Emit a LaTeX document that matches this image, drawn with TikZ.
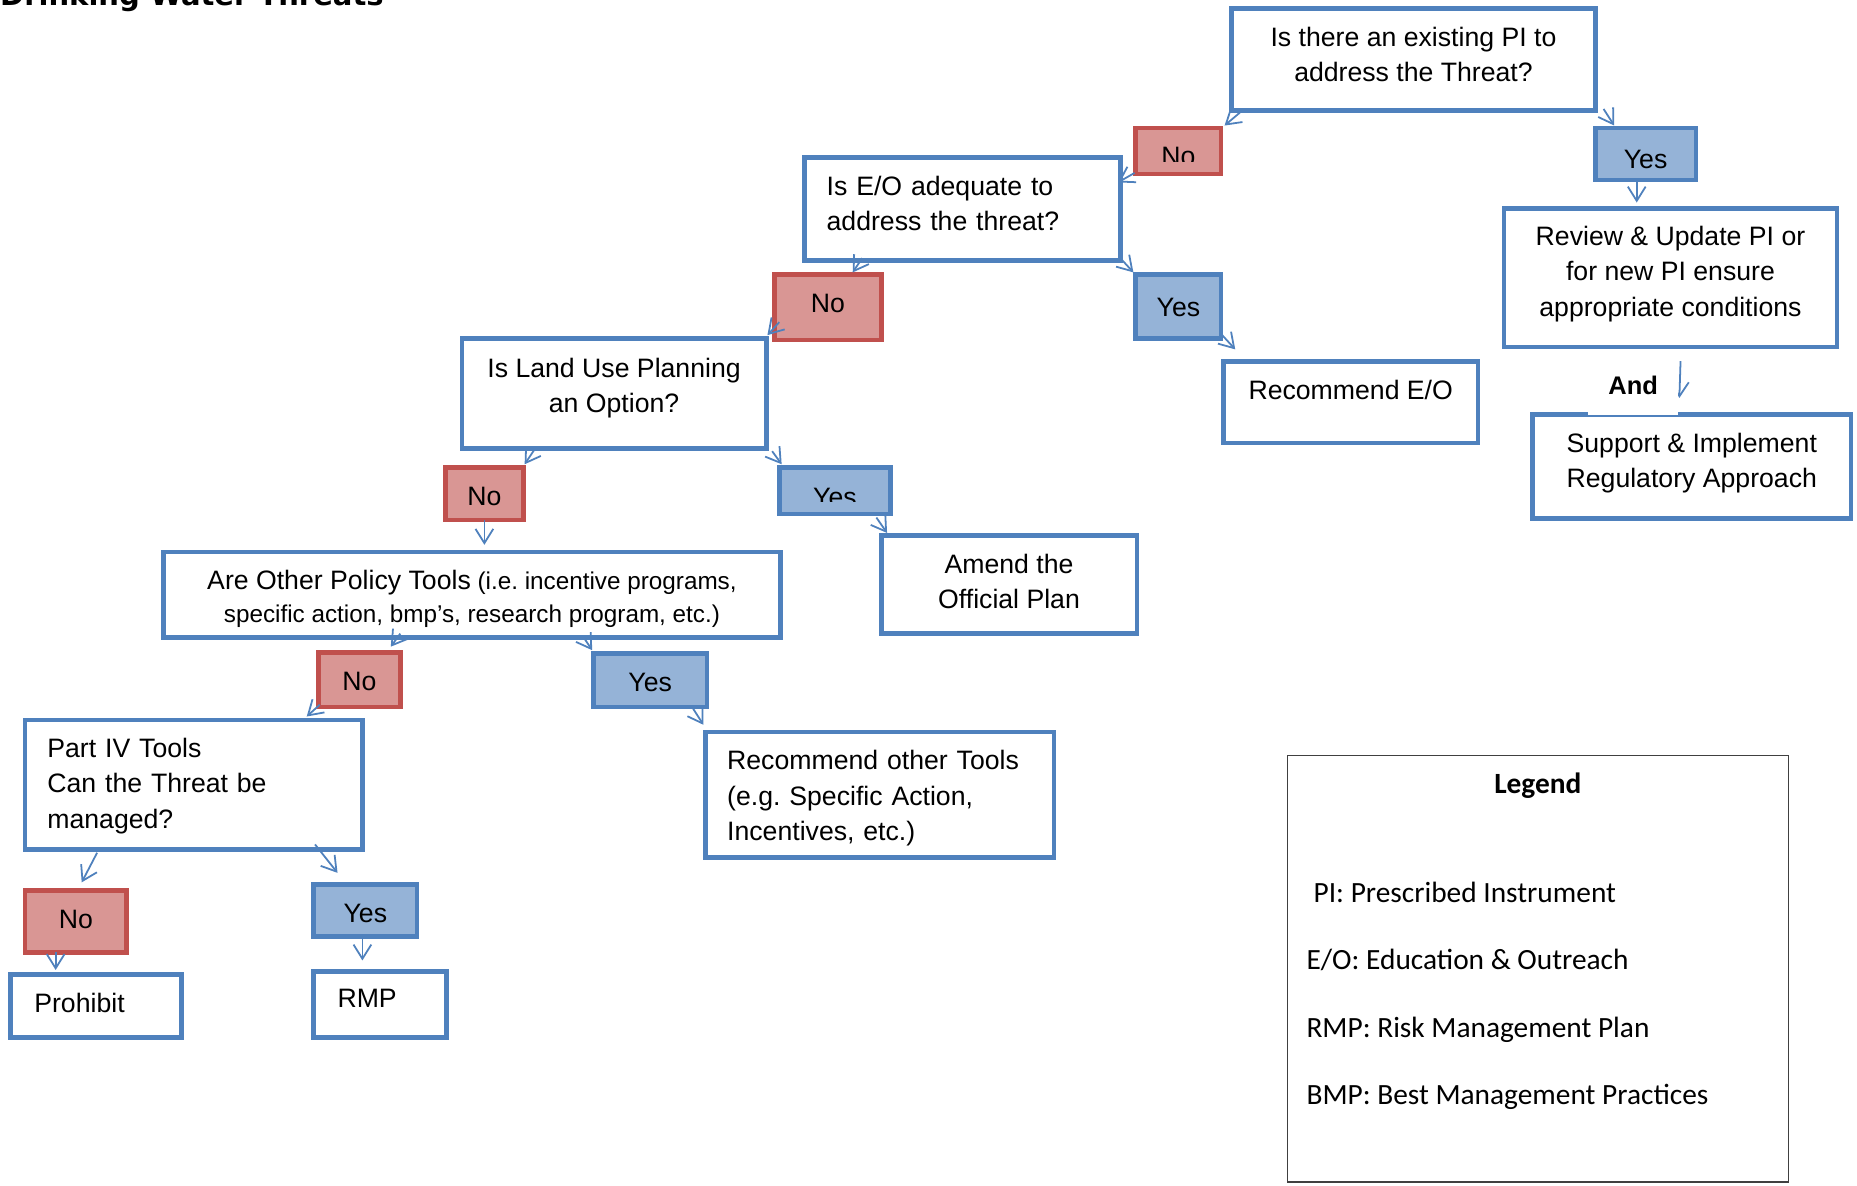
\documentclass[tikz,border=0pt]{standalone}
\usepackage{fontspec}
\setmainfont{Liberation Sans}
\newfontfamily\legendfont{Carlito}
\newfontfamily\titlefont{DejaVu Sans}
\usetikzlibrary{arrows.meta,calc}
\definecolor{bl}{HTML}{4F81BD}
\definecolor{blf}{HTML}{95B3D7}
\definecolor{rd}{HTML}{C0504D}
\definecolor{rdf}{HTML}{D99694}
\newcommand\sTop[1]{\rule{0pt}{\dimexpr#1pt+1pt\relax}}
\newcommand\sBot[1]{\rule[\dimexpr-#1pt+1pt\relax]{0pt}{\dimexpr#1pt-1pt\relax}}
\frenchspacing
\begin{document}
\begin{tikzpicture}[x=1pt,y=-1pt,
  basebox/.style={rectangle, inner sep=0pt, outer sep=0pt, line width=4pt,
    font=\fontsize{22.5}{30}\selectfont},
  qbox/.style={basebox, draw=bl, fill=white, align=center},
  lbox/.style={basebox, draw=bl, fill=white, align=left},
  nobox/.style={basebox, draw=rd, fill=rdf, align=center},
  yesbox/.style={basebox, draw=bl, fill=blf, align=center},
  arr/.style={draw=bl, line width=1.5pt, -{Straight Barb[length=12pt,width=15pt]}},
  legtext/.style={inner sep=0pt, anchor=base west, font=\legendfont\fontsize{24.8}{30}\selectfont},
]
\fill[white] (0,0) rectangle (1568,1001);
\useasboundingbox (0,0) rectangle (1568,1001);

\node[inner sep=0pt, anchor=base west, font=\titlefont\bfseries\fontsize{24.5}{30}\selectfont] (title) at (0,5) {Drinking Water Threats};

% decision boxes
\node[qbox, minimum width=307pt, minimum height=86pt] (pi) at (1193.5,50)
  {\sTop{22}Is there an existing PI to\\address the Threat?\sBot{16}};
\node[nobox, minimum width=72pt, minimum height=39pt] (no1) at (995,127.5) {\sTop{29}No\sBot{6}};
\fill[rdf] ($(no1.south west)+(2,-10.5)$) rectangle ($(no1.south east)+(-2,-2)$);
\node[yesbox, minimum width=85pt, minimum height=44pt] (yes1) at (1389.5,130) {\sTop{28}Yes\sBot{6}};
\node[qbox, minimum width=281pt, minimum height=117pt] (review) at (1410.5,234.5)
  {\sTop{22}Review \& Update PI or\\for new PI ensure\\appropriate conditions\sBot{19}};
\node[qbox, minimum width=269pt, minimum height=88pt] (support) at (1428.5,394)
  {\sTop{22}Support \& Implement\\Regulatory Approach\sBot{18}};

\node[lbox, text width=229pt, minimum width=267pt, minimum height=87pt] (eo) at (812.5,176.5)
  {\sTop{22}Is E/O adequate to\\address the threat?\sBot{17}};
\node[nobox, minimum width=90pt, minimum height=55pt] (no2) at (699,259.5) {\sTop{22}No\sBot{15}};
\node[yesbox, minimum width=72pt, minimum height=54pt] (yes2) at (995,259) {\sTop{22}Yes\sBot{8}};
\node[qbox, minimum width=215pt, minimum height=69pt] (receo) at (1140.5,339.5) {\sTop{22}Recommend E/O\sBot{29}};

\node[qbox, minimum width=257pt, minimum height=93pt] (land) at (518.5,332.5)
  {\sTop{22}Is Land Use Planning\\an Option?\sBot{22}};
\node[nobox, minimum width=66pt, minimum height=44pt] (no3) at (409,417) {\sTop{24}No\sBot{6}};
\node[yesbox, minimum width=94pt, minimum height=39pt] (yes3) at (705,414.5) {\sTop{30}Yes\sBot{6}};
\fill[blf] ($(yes3.south west)+(2,-10.4)$) rectangle ($(yes3.south east)+(-2,-2)$);
\node[qbox, minimum width=216pt, minimum height=83pt] (amend) at (852,493.5)
  {\sTop{22}Amend the\\Official Plan\sBot{13}};

\node[qbox, minimum width=521pt, minimum height=72pt, font=\fontsize{20.5}{28}\selectfont] (other) at (398.5,502)
  {\sTop{24}{\fontsize{22.5}{28}\selectfont Are Other Policy Tools} (i.e. incentive programs,\\specific action, bmp’s, research program, etc.)\sBot{6}};
\node[nobox, minimum width=69pt, minimum height=46pt] (no4) at (303.5,574) {\sTop{22}No\sBot{6}};
\node[yesbox, minimum width=96pt, minimum height=45pt] (yes4) at (549,574.5) {\sTop{23}Yes\sBot{6}};

\node[lbox, text width=247pt, minimum width=285pt, minimum height=109pt] (part) at (163.5,662.5)
  {\sTop{22}Part IV Tools\\Can the Threat be\\managed?\sBot{10}};
\node[lbox, text width=258pt, minimum width=294pt, minimum height=106pt] (recother) at (743,671)
  {\sTop{22}Recommend other Tools\\(e.g. Specific Action,\\Incentives, etc.)\sBot{6}};

\node[nobox, minimum width=86pt, minimum height=52pt] (no5) at (64,778) {\sTop{22}No\sBot{12}};
\node[yesbox, minimum width=87pt, minimum height=44pt] (yes5) at (308.5,769) {\sTop{24}Yes\sBot{6}};
\node[lbox, text width=104pt, minimum width=144pt, minimum height=53pt] (prohibit) at (81,849.5) {\sTop{22}Prohibit\sBot{13}};
\node[lbox, text width=72pt, minimum width=112pt, minimum height=56pt] (rmp) at (321,848) {\sTop{22}RMP\sBot{18}};

% connectors
\draw[arr] ($(pi.south west)+(7,2)$) -- ($(no1.north east)+(3,-2)$);
\draw[arr] ($(pi.south east)+(7,-1)$) -- ($(yes1.north west)+(16,-2)$);
\draw[arr] ($(yes1.south)+(-7.5,0)$) -- ($(review.north)+(-28.5,-5)$);
\draw[arr] ($(no1.south west)+(-1,-1)$) -- ($(eo.north east)+(-2,21)$);
\draw[arr] ($(eo.south west)+(49,-2)$) -- ($(no2.north west)+(66,-2)$);
\draw[arr] ($(eo.south east)+(0,-2)$) -- ($(yes2.north west)+(-2,-2)$);
\draw[arr] ($(yes2.south east)+(1,-3)$) -- ($(receo.north west)+(10,-10)$);
\draw[arr] ($(no2.south west)+(4,-15)$) -- ($(land.north east)+(1,-3)$);
\draw[arr] ($(land.south west)+(61,1)$) -- ($(no3.north east)+(1,-3)$);
\draw[arr] ($(land.south east)+(5,2)$) -- ($(yes3.north west)+(2,-3)$);
\draw[arr] (no3.south) -- ($(other.north)+(10.5,-6)$);
\draw[arr] ($(yes3.south east)+(-12,3)$) -- ($(amend.north west)+(5,-2)$);
\draw[arr] ($(other.south west)+(200,-3)$) -- ($(no4.north east)+(-8,-5)$);
\draw[arr] ($(other.south west)+(354,-1)$) -- ($(yes4.north west)+(-1,-3)$);
\draw[arr] ($(no4.south west)+(1,-2)$) -- ($(part.north east)+(-47,-3)$);
\draw[arr] ($(yes4.south east)+(-12,1)$) -- ($(recother.north west)+(-2,-6)$);
\draw[arr] ($(part.south west)+(61,3)$) -- ($(no5.north)+(5,-7)$);
\draw[arr] ($(part.south east)+(-40,-4)$) -- ($(yes5.north west)+(20,-10)$);
\draw[arr] ($(no5.south)+(-17,0)$) -- ($(prohibit.north)+(-34,-4)$);
\draw[arr] ($(yes5.south)+(-2.5,1)$) -- ($(rmp.north)+(-15,-9)$);
\draw[arr] ($(review.south)+(8.5,12)$) -- ($(support.north)+(-10.5,-14)$);

\node[basebox, fill=white, minimum width=76pt, minimum height=44pt, font=\bfseries\fontsize{21.5}{30}\selectfont] (and) at (1379,328) {\sTop{22}And\sBot{14}};

% legend
\node[rectangle, draw=black!75, line width=1.2pt, inner sep=0pt, outer sep=0pt, minimum width=423pt, minimum height=360pt] (legend) at (1298.5,818) {};
\node[inner sep=0pt, anchor=base, font=\legendfont\bfseries\fontsize{24.8}{30}\selectfont] (legtitle) at ($(legend.north)+(0,32)$) {Legend};
\node[legtext] (leg1) at ($(legend.north west)+(22,124)$) {PI: Prescribed Instrument};
\node[legtext] (leg2) at ($(legend.north west)+(16,181)$) {E/O: Education \& Outreach};
\node[legtext] (leg3) at ($(legend.north west)+(16,238)$) {RMP: Risk Management Plan};
\node[legtext] (leg4) at ($(legend.north west)+(16,295)$) {BMP: Best Management Practices};
\end{tikzpicture}
\end{document}
